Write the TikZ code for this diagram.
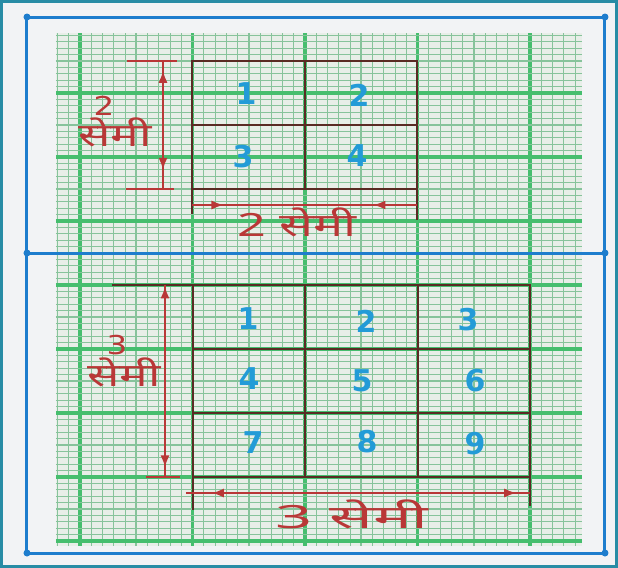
\documentclass[tikz,border=0pt]{standalone}
\usepackage{fontspec}
\newfontfamily\hindifont[Script=Devanagari]{Noto Sans}
\newfontfamily\numfont{DejaVu Sans}
\usetikzlibrary{arrows.meta,decorations.markings}
\definecolor{frameteal}{RGB}{40,140,165}
\definecolor{penblue}{RGB}{30,125,205}
\definecolor{numblue}{RGB}{35,155,215}
\definecolor{redink}{RGB}{185,55,55}
\definecolor{browngrid}{RGB}{90,42,36}
\definecolor{majorgreen}{RGB}{70,190,110}
\definecolor{finegreen}{RGB}{135,195,155}
\definecolor{paper}{RGB}{232,238,232}
\definecolor{sheet}{RGB}{242,243,245}
\tikzset{
  num/.style={text=numblue,font=\numfont\fontsize{15}{15}\selectfont\bfseries},
  unit/.style={text=redink,font=\hindifont\fontsize{16}{16}\selectfont,xscale=1.5},
  small/.style={text=redink,font=\numfont\fontsize{13}{13}\selectfont,xscale=1.25},
  cellline/.style={draw=browngrid,line width=1.1pt},
  dimline/.style={draw=redink,line width=0.9pt},
  dimout/.style 2 args={decoration={markings,
      mark=at position #1 with {\arrow{Latex[reversed,length=6pt,width=4.5pt]}},
      mark=at position #2 with {\arrow{Latex[length=6pt,width=4.5pt]}}},
    postaction={decorate}},
  dimin/.style 2 args={decoration={markings,
      mark=at position #1 with {\arrow{Latex[length=6pt,width=4.5pt]}},
      mark=at position #2 with {\arrow{Latex[reversed,length=6pt,width=4.5pt]}}},
    postaction={decorate}}
}
\begin{document}
\begin{tikzpicture}[x=0.5pt,y=-0.5pt]
\useasboundingbox (0,0) rectangle (618,568);
% sheet and frame
\fill[sheet] (0,0) rectangle (618,568);
\draw[frameteal,line width=1.4pt] (1.5,1.5) rectangle (616.5,566.5);
% graph paper
\fill[paper] (56,33) rectangle (582,546);
\foreach \i in {-2,...,44}{
  \pgfmathsetmacro\xx{80+11.25*\i}
  \pgfmathtruncatemacro\m{mod(\i+20,10)}
  \pgfmathtruncatemacro\h{mod(\i+20,5)}
  \ifnum\m=0
    \draw[majorgreen,line width=1.6pt] (\xx,33) -- (\xx,546);
  \else\ifnum\h=0
    \draw[finegreen,line width=0.8pt] (\xx,33) -- (\xx,546);
  \else
    \draw[finegreen,line width=0.45pt] (\xx,33) -- (\xx,546);
  \fi\fi
}
\foreach \i in {-9,...,70}{
  \pgfmathsetmacro\yy{93+6.4*\i}
  \pgfmathtruncatemacro\m{mod(\i+20,10)}
  \pgfmathtruncatemacro\h{mod(\i+20,5)}
  \ifnum\m=0
    \draw[majorgreen,line width=1.6pt] (56,\yy) -- (582,\yy);
  \else\ifnum\h=0
    \draw[finegreen,line width=0.8pt] (56,\yy) -- (582,\yy);
  \else
    \draw[finegreen,line width=0.4pt] (56,\yy) -- (582,\yy);
  \fi\fi
}
% blue border
\draw[penblue,line width=1.5pt] (27,17) rectangle (605,553);
\draw[penblue,line width=1.5pt] (27,253) -- (605,253);
\foreach \p in {(27,17),(605,17),(27,553),(605,553),(27,253),(605,253)}
  \fill[penblue] \p circle (3.5);

% Top square (2 x 2)
\draw[cellline] (192,61) rectangle (417,189);
\draw[cellline] (305,61) -- (305,189);
\draw[cellline] (192,125) -- (417,125);
\draw[cellline] (192,189) -- (192,214);
\draw[cellline] (417,189) -- (417,220);
\node[num] (A1) at (246,94) {1};
\node[num] (A2) at (359,95) {2};
\node[num] (A3) at (243,157) {3};
\node[num] (A4) at (357,156) {4};
% top dimensions
\coordinate (TV1) at (163,61);
\coordinate (TV2) at (163,189);
\coordinate (TK1) at (127,61);
\coordinate (TK2) at (177,61);
\coordinate (TK3) at (126,189);
\coordinate (TK4) at (174,189);
\draw[dimline] (TK1) -- (TK2);
\draw[dimline] (TK3) -- (TK4);
\draw[dimline,dimout={0.17}{0.85}] (TV1) -- (TV2);
\coordinate (TH1) at (192,205);
\coordinate (TH2) at (417,205);
\draw[dimline,dimin={0.14}{0.86}] (TH1) -- (TH2);
\node[small] (TL1) at (104,106) {2};
\node[unit] (TL2) at (115,132) {सेमी};
\node[unit,xscale=1.05] (TL3) at (297,222) {2 सेमी};

% Bottom square (3 x 3)
\draw[cellline] (193,285) rectangle (530,477);
\draw[cellline] (305,285) -- (305,477);
\draw[cellline] (418,285) -- (418,477);
\draw[cellline] (193,349) -- (530,349);
\draw[cellline] (193,413) -- (530,413);
\draw[cellline] (193,477) -- (193,510);
\draw[cellline] (530,477) -- (530,506);
\node[num] (B1) at (248,319) {1};
\node[num] (B2) at (366,321) {2};
\node[num] (B3) at (468,320) {3};
\node[num] (B4) at (249,379) {4};
\node[num] (B5) at (362,381) {5};
\node[num] (B6) at (475,381) {6};
\node[num] (B7) at (253,443) {7};
\node[num] (B8) at (367,442) {8};
\node[num] (B9) at (475,444) {9};
% bottom dimensions
\coordinate (BV1) at (165,285);
\coordinate (BV2) at (165,477);
\coordinate (BK1) at (112,285);
\coordinate (BK2) at (193,285);
\coordinate (BK3) at (146,477);
\coordinate (BK4) at (180,477);
\draw[cellline] (BK1) -- (BK2);
\draw[dimline] (BK3) -- (BK4);
\draw[dimline,dimout={0.07}{0.95}] (BV1) -- (BV2);
\coordinate (BH1) at (186,493);
\coordinate (BH2) at (530,493);
\draw[dimline,dimout={0.11}{0.96}] (BH1) -- (BH2);
\node[small] (BL1) at (117,345) {3};
\node[unit] (BL2) at (124,372) {सेमी};
\node[unit,xscale=1.35] (BL3) at (352,514) {3 सेमी};
\end{tikzpicture}
\end{document}
